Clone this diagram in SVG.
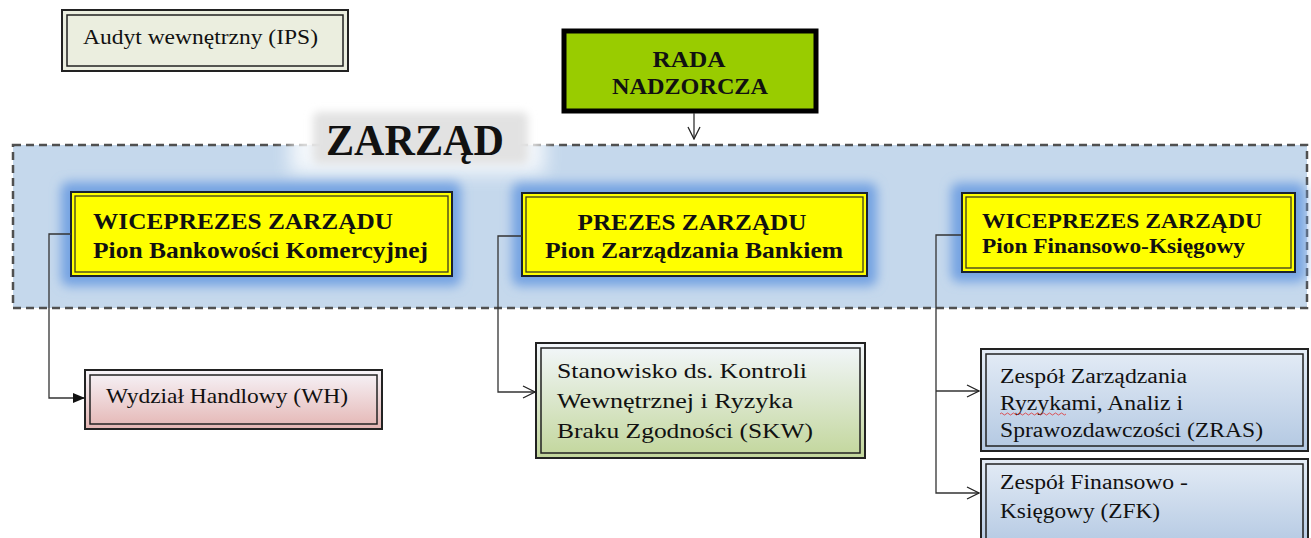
<svg xmlns="http://www.w3.org/2000/svg" width="1311" height="538" viewBox="0 0 1311 538">
<defs>
<style>
.t{font-family:"Liberation Serif","Times New Roman",serif;fill:#111}
.b{font-weight:bold}
.o{stroke:#222;stroke-width:2}
.i{fill:none;stroke:#222;stroke-width:1.5}
.c{fill:none;stroke:#333;stroke-width:1.3}
.glow{fill:#74a3e2}
.yel{fill:#ffff00;stroke:#1a2230;stroke-width:2}
.yin{fill:none;stroke:#3a3a20;stroke-width:1.3}
</style>
<linearGradient id="gPink" x1="0" y1="0" x2="0" y2="1"><stop offset="0" stop-color="#f7f5fa"/><stop offset="1" stop-color="#e4b5b3"/></linearGradient>
<linearGradient id="gGreen" x1="0" y1="0" x2="0" y2="1"><stop offset="0" stop-color="#f3f7fc"/><stop offset="1" stop-color="#c2d69b"/></linearGradient>
<linearGradient id="gBlue" x1="0" y1="0" x2="0" y2="1"><stop offset="0" stop-color="#e4ecf6"/><stop offset="1" stop-color="#b3c8e2"/></linearGradient>
<filter id="blur8" x="-30%" y="-60%" width="160%" height="220%"><feGaussianBlur stdDeviation="9"/></filter>
<filter id="blur4" x="-20%" y="-40%" width="140%" height="180%"><feGaussianBlur stdDeviation="4"/></filter>
<filter id="blur6" x="-20%" y="-40%" width="140%" height="180%"><feGaussianBlur stdDeviation="5.5"/></filter>
<marker id="mFill" markerWidth="12" markerHeight="10" refX="11" refY="5" orient="auto" markerUnits="userSpaceOnUse"><path d="M0,0 L12,5 L0,10 Z" fill="#111"/></marker>
<marker id="mOpen" markerWidth="14" markerHeight="14" refX="13" refY="7" orient="auto" markerUnits="userSpaceOnUse"><path d="M1,1 L13,7 L1,13" fill="none" stroke="#222" stroke-width="1.3"/></marker>
</defs>

<rect width="1311" height="538" fill="#ffffff"/>

<g id="zarzad">
<rect x="13" y="145" width="1294" height="163" fill="#c5d8ec" stroke="#505050" stroke-width="2.5" stroke-dasharray="8,5"/>
<rect x="290" y="108" width="255" height="66" fill="#ffffff" opacity="0.8" filter="url(#blur8)"/>
<rect x="313" y="112" width="215" height="52" rx="6" fill="#e2e2e2" filter="url(#blur4)"/>
<text class="t b" x="326" y="155" font-size="45" textLength="178" lengthAdjust="spacingAndGlyphs">ZARZĄD</text>
</g>

<g id="audyt">
<rect x="62" y="10" width="286" height="61" fill="#ebeedf" class="o"/>
<rect x="67" y="15" width="276" height="51" class="i"/>
<text class="t" x="83" y="44" font-size="22" textLength="235" lengthAdjust="spacingAndGlyphs">Audyt wewnętrzny (IPS)</text>
</g>

<g id="rada">
<rect x="564" y="31" width="252" height="80" fill="#99cc00" stroke="#000" stroke-width="5"/>
<text class="t b" x="689" y="67" font-size="23" text-anchor="middle" textLength="73" lengthAdjust="spacingAndGlyphs">RADA</text>
<text class="t b" x="690" y="94" font-size="23" text-anchor="middle" textLength="156" lengthAdjust="spacingAndGlyphs">NADZORCZA</text>
</g>

<g id="wiceprezes1">
<rect x="61" y="182" width="400" height="104" rx="8" class="glow" filter="url(#blur6)"/>
<rect x="71" y="192" width="381" height="84" class="yel"/>
<rect x="75" y="196" width="373" height="76" class="yin"/>
<text class="t b" x="93" y="229" font-size="24" textLength="300" lengthAdjust="spacingAndGlyphs">WICEPREZES ZARZĄDU</text>
<text class="t b" x="93" y="258" font-size="24" textLength="335" lengthAdjust="spacingAndGlyphs">Pion Bankowości Komercyjnej</text>
</g>

<g id="prezes">
<rect x="512" y="183" width="365" height="103" rx="8" class="glow" filter="url(#blur6)"/>
<rect x="522" y="193" width="345" height="83" class="yel"/>
<rect x="526" y="197" width="337" height="75" class="yin"/>
<text class="t b" x="692" y="230" font-size="24" text-anchor="middle" textLength="229" lengthAdjust="spacingAndGlyphs">PREZES ZARZĄDU</text>
<text class="t b" x="694" y="258" font-size="24" text-anchor="middle" textLength="298" lengthAdjust="spacingAndGlyphs">Pion Zarządzania Bankiem</text>
</g>

<g id="wiceprezes2">
<rect x="951" y="183" width="354" height="99" rx="8" class="glow" filter="url(#blur6)"/>
<rect x="962" y="193" width="333" height="79" class="yel"/>
<rect x="966" y="197" width="325" height="71" class="yin"/>
<text class="t b" x="982" y="228" font-size="22" textLength="280" lengthAdjust="spacingAndGlyphs">WICEPREZES ZARZĄDU</text>
<text class="t b" x="982" y="253" font-size="22" textLength="263" lengthAdjust="spacingAndGlyphs">Pion Finansowo-Księgowy</text>
</g>

<g id="wh">
<rect x="85" y="370" width="297" height="59" fill="url(#gPink)" class="o"/>
<rect x="90" y="375" width="287" height="49" class="i"/>
<text class="t" x="106" y="403" font-size="21" textLength="242" lengthAdjust="spacingAndGlyphs">Wydział Handlowy (WH)</text>
</g>

<g id="skw">
<rect x="536" y="343" width="329" height="115" fill="url(#gGreen)" class="o"/>
<rect x="541" y="348" width="319" height="105" class="i"/>
<text class="t" x="557" y="378" font-size="22" textLength="250" lengthAdjust="spacingAndGlyphs">Stanowisko ds. Kontroli</text>
<text class="t" x="557" y="408" font-size="22" textLength="236" lengthAdjust="spacingAndGlyphs">Wewnętrznej i Ryzyka</text>
<text class="t" x="557" y="438" font-size="22" textLength="256" lengthAdjust="spacingAndGlyphs">Braku Zgodności (SKW)</text>
</g>

<g id="zras">
<rect x="981" y="349" width="327" height="102" fill="url(#gBlue)" class="o"/>
<rect x="986" y="354" width="317" height="92" class="i"/>
<text class="t" x="1000" y="383" font-size="20" textLength="187" lengthAdjust="spacingAndGlyphs">Zespół Zarządzania</text>
<text class="t" x="1000" y="410" font-size="20" textLength="183" lengthAdjust="spacingAndGlyphs">Ryzykami, Analiz i</text>
<path d="M1000,414 q1.5,-2 3,0 t3,0 t3,0 t3,0 t3,0 t3,0 t3,0 t3,0 t3,0 t3,0 t3,0 t3,0 t3,0 t3,0 t3,0 t3,0 t3,0 t3,0 t3,0 t3,0 t3,0 t3,0" fill="none" stroke="#e03030" stroke-width="0.8"/>
<text class="t" x="1000" y="437" font-size="20" textLength="263" lengthAdjust="spacingAndGlyphs">Sprawozdawczości (ZRAS)</text>
</g>

<g id="zfk">
<rect x="981" y="459" width="327" height="90" fill="url(#gBlue)" class="o"/>
<rect x="986" y="464" width="317" height="80" class="i"/>
<text class="t" x="1000" y="489" font-size="20" textLength="188" lengthAdjust="spacingAndGlyphs">Zespół Finansowo -</text>
<text class="t" x="1000" y="518" font-size="20" textLength="160" lengthAdjust="spacingAndGlyphs">Księgowy (ZFK)</text>
</g>

<g id="connectors">
<path class="c" d="M694,113 V139" marker-end="url(#mOpen)"/>
<path class="c" d="M71,234 H49 V398 H84" marker-end="url(#mFill)"/>
<path class="c" d="M522,236 H498 V392 H535" marker-end="url(#mOpen)"/>
<path class="c" d="M961,235 H936 V493 H979" marker-end="url(#mOpen)"/>
<path class="c" d="M936,391 H979" marker-end="url(#mOpen)"/>
</g>
</svg>
